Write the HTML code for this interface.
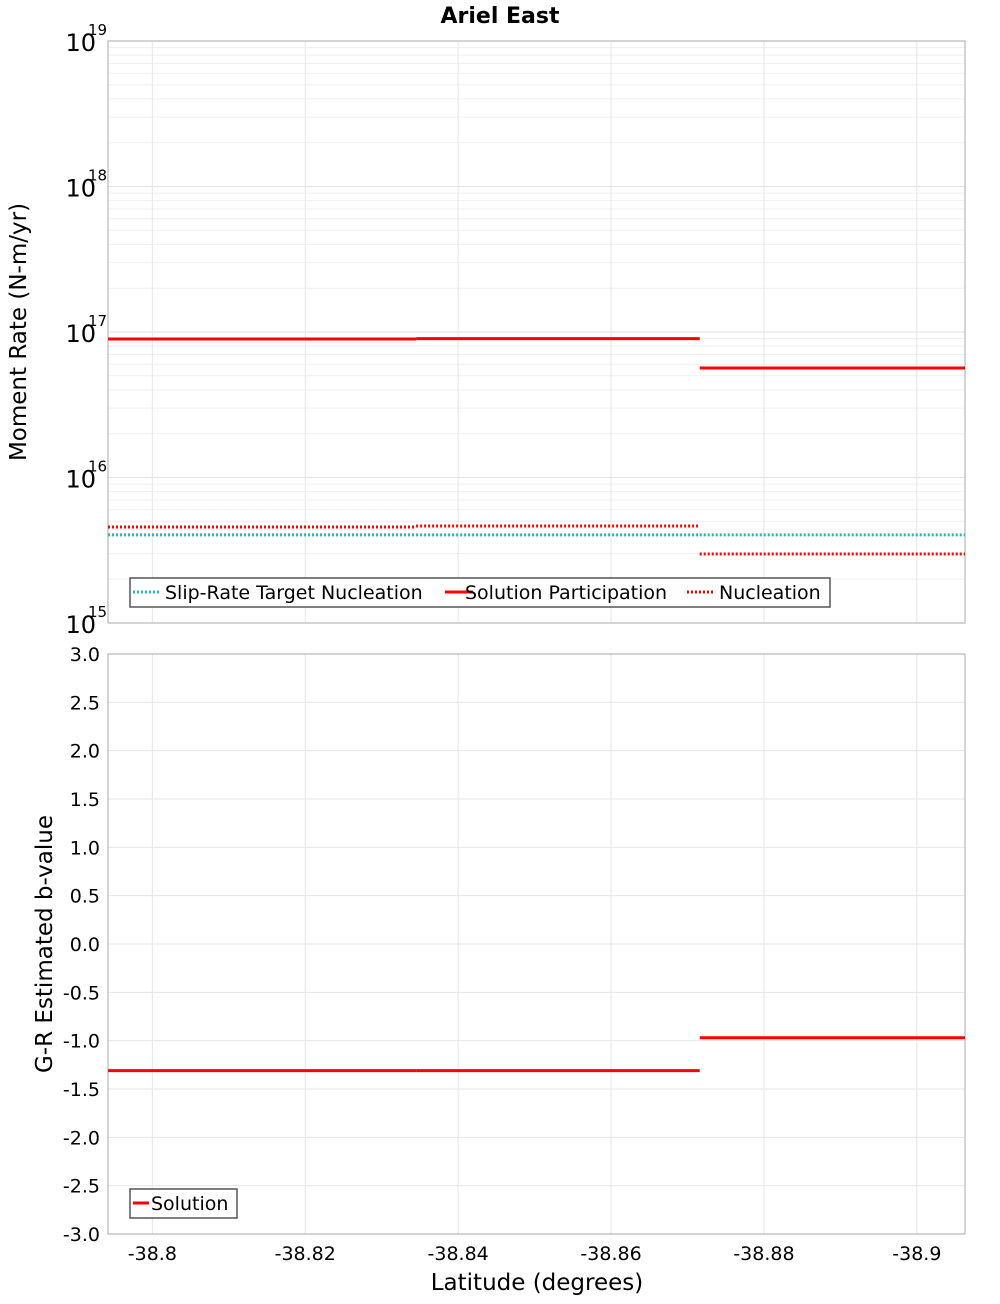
<!DOCTYPE html>
<html><head><meta charset="utf-8"><style>
body{margin:0;background:#fff;font-family:"DejaVu Sans","Liberation Sans",sans-serif;}
svg text{font-family:"DejaVu Sans","Liberation Sans",sans-serif;}
</style></head><body>
<svg id="c" width="1000" height="1300" xmlns="http://www.w3.org/2000/svg"></svg>
<script>
const segStarts=[-38.7942,-38.8345,-38.8716];
const segEnds=[-38.8345,-38.8716,-38.9063];
const participation=[8.95e16,9.0e16,5.66e16];
const nucleation=[4.57e15,4.64e15,2.98e15];
const target=[4.03e15,4.03e15,4.03e15];
const bvalues=[-1.31,-1.31,-0.97];
const xTicks=[-38.8,-38.82,-38.84,-38.86,-38.88,-38.9];
const xTickLabels=["-38.8","-38.82","-38.84","-38.86","-38.88","-38.9"];
const bTicks=[3,2.5,2,1.5,1,0.5,0,-0.5,-1,-1.5,-2,-2.5,-3];
const decades=[15,16,17,18,19];

const S=document.getElementById('c');const NS='http://www.w3.org/2000/svg';
function el(t,a,txt){const e=document.createElementNS(NS,t);for(const k in a)e.setAttribute(k,a[k]);if(txt!=null)e.textContent=txt;S.appendChild(e);return e;}
const L=108,R=965,T1=41,B1=623,T2=654,B2=1234;
const xMin=-38.7942,xMax=-38.9063;
const X=v=>L+(v-xMin)/(xMax-xMin)*(R-L);
const Y1=v=>B1-(Math.log10(v)-15)/4*(B1-T1);
const Y2=v=>B2-(v+3)/6*(B2-T2);

let e;
e=el('text',{x:500,y:23,'text-anchor':'middle','font-size':22,'font-weight':'bold'},'Ariel East');


// top grid
for(let d=15;d<19;d++)for(let m=1;m<10;m++){const y=Y1(m*Math.pow(10,d));e=el('line',{x1:L,x2:R,y1:y,y2:y,stroke:m==1?'#e2e2e2':'#efefef','stroke-width':1});}
for(const t of xTicks){for(const [a,b] of [[T1,B1],[T2,B2]]){e=el('line',{x1:X(t),x2:X(t),y1:a,y2:b,stroke:'#e6e6e6'});}}
for(const t of bTicks){const y=Y2(t);e=el('line',{x1:L,x2:R,y1:y,y2:y,stroke:'#e6e6e6'});
e=el('text',{x:100,y:y+7,'text-anchor':'end','font-size':19},t.toFixed(1));}
for(const d of decades){const y=Y1(Math.pow(10,d));e=el('text',{x:96,y:y+10,'text-anchor':'end','font-size':24},'10');
e=el('text',{x:88,y:y-6,'font-size':15},String(d));}
for(let i=0;i<xTicks.length;i++){e=el('text',{x:X(xTicks[i]),y:1260,'text-anchor':'middle','font-size':19},xTickLabels[i]);}
// frames
for(const [a,b,n] of [[T1,B1,'top-plot-frame'],[T2,B2,'bottom-plot-frame']]){e=el('rect',{x:L,y:a,width:R-L,height:b-a,fill:'none',stroke:'#aaa'});}
// series
for(let i=0;i<3;i++){
 const x1=X(segStarts[i]),x2=X(segEnds[i]);
 e=el('line',{x1,x2,y1:Y1(target[i]),y2:Y1(target[i]),stroke:'#1fbcbc','stroke-width':3,'stroke-dasharray':'2,2'});
 e=el('line',{x1,x2,y1:Y1(nucleation[i]),y2:Y1(nucleation[i]),stroke:'#f00','stroke-width':3,'stroke-dasharray':'2,2'});
 e=el('line',{x1,x2,y1:Y1(participation[i]),y2:Y1(participation[i]),stroke:'#f00','stroke-width':3});
 e=el('line',{x1,x2,y1:Y2(bvalues[i]),y2:Y2(bvalues[i]),stroke:'#f00','stroke-width':3});
}
// legends
e=el('rect',{x:130,y:578,width:700,height:29,fill:'#fff',stroke:'#555','stroke-width':1.5});
const leg=[[133,'#1fbcbc','2,2','Slip-Rate Target Nucleation',165],[445,'#f00','','Solution Participation',465],[687,'#f00','2,2','Nucleation',719]];
for(const [x,c,da,t,tx] of leg){e=el('line',{x1:x,x2:x+28,y1:592,y2:592,stroke:c,'stroke-width':3,'stroke-dasharray':da||'none'});
e=el('text',{x:tx,y:599,'font-size':19},t);}
e=el('rect',{x:130,y:1189,width:107,height:29,fill:'#fff',stroke:'#555','stroke-width':1.5});
e=el('line',{x1:133,x2:149,y1:1203,y2:1203,stroke:'#f00','stroke-width':3});
e=el('text',{x:151,y:1210,'font-size':19},'Solution');
// axis titles
e=el('text',{x:26,y:332,'text-anchor':'middle','font-size':23,transform:'rotate(-90 26 332)'},'Moment Rate (N-m/yr)');
e=el('text',{x:52,y:944,'text-anchor':'middle','font-size':23,transform:'rotate(-90 52 944)'},'G-R Estimated b-value');
e=el('text',{x:537,y:1290,'text-anchor':'middle','font-size':23},'Latitude (degrees)');
</script>
</body></html>
